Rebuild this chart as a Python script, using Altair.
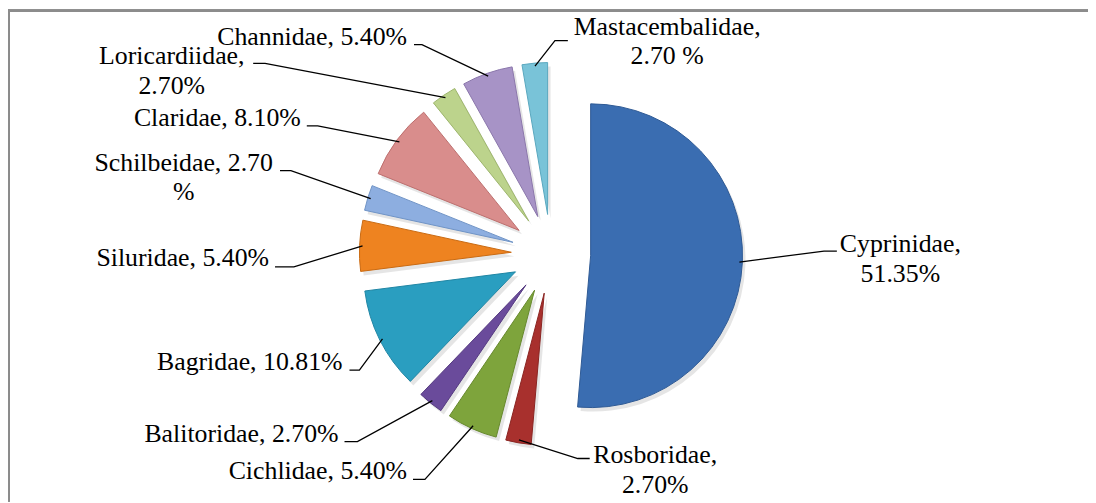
import math
import altair as alt
import pandas as pd

# ---- data ----
families = ["Cyprinidae", "Rosboridae", "Cichlidae", "Balitoridae", "Bagridae",
            "Siluridae", "Schilbeidae", "Claridae", "Loricardiidae", "Channidae",
            "Mastacembalidae"]
shares = [51.35, 2.70, 5.40, 2.70, 10.81, 5.40, 2.70, 8.10, 2.70, 5.40, 2.70]
label_texts = ["Cyprinidae,\n51.35%", "Rosboridae,\n2.70%", "Cichlidae, 5.40%",
               "Balitoridae, 2.70%", "Bagridae, 10.81%", "Siluridae, 5.40%",
               "Schilbeidae, 2.70\n%", "Claridae, 8.10%", "Loricardiidae,\n2.70%",
               "Channidae, 5.40%", "Mastacembalidae,\n2.70 %"]

# ---- styles / layout ----
colors = ["#3A6DB1", "#A8302D", "#7EA43C", "#6A4B9B", "#2A9EC0", "#EE8320",
          "#8DAEE0", "#D98D8C", "#BCD38C", "#A793C6", "#79C3D8"]
strokes = ["#2E5A94", "#8A2421", "#66882C", "#553A80", "#1F85A3", "#C96A12",
           "#6F93C6", "#BC6F6E", "#9DB56C", "#8A76AA", "#5AA7BE"]
FONT = "'Liberation Serif', 'Times New Roman', 'DejaVu Serif', serif"
CX, CY = 547, 246          # pie centre (px)
EXPLODE = 40               # explosion distance (px)
R = 153                    # radius (px)
W, H = 1088, 495

label_x = [899, 652, 402, 333, 337, 263, 177, 295, 165, 402, 664]
label_y = [244, 457, 473, 435, 363, 258, 162, 117, 55, 35, 25]
label_align = ["center", "center", "right", "right", "right", "right",
               "center", "right", "center", "right", "center"]
knee_x = [822, 574, 420, 352, 354, 288, 285, 312, 259, 417, 551]
knee_y = [243, 452, 473, 435, 363, 259, 162, 117, 54, 35, 31]
end_x = [835, 586, 408, 339, 344, 269, 274, 301, 247, 409, 564]
end_y = [243, 452, 473, 435, 363, 259, 162, 117, 54, 35, 31]

slices = pd.DataFrame({"family": families, "share": shares,
                       "idx": list(range(len(families)))})

arc_base = (
    alt.Chart(slices)
    .transform_window(cum="sum(share)", sort=[alt.SortField("idx")], frame=[None, 0])
    .transform_joinaggregate(total="sum(share)")
    .transform_calculate(
        f0="(datum.cum - datum.share) / datum.total",
        f1="datum.cum / datum.total",
        mid="(datum.cum - datum.share / 2) / datum.total * 2 * PI",
    )
    .transform_calculate(
        px=f"{CX} + {EXPLODE} * sin(datum.mid)",
        py=f"{CY} - {EXPLODE} * cos(datum.mid)",
        sx=f"{CX} + {EXPLODE} * sin(datum.mid) + 3",
        sy=f"{CY} - {EXPLODE} * cos(datum.mid) + 4",
    )
)

theta_scale = alt.Scale(domain=[0, 1], range=[0, 2 * math.pi])

shadow = arc_base.mark_arc(radius=R, color="#000000", opacity=0.10).encode(
    theta=alt.Theta("f0:Q", scale=theta_scale),
    theta2="f1:Q",
    x=alt.X("sx:Q", scale=None),
    y=alt.Y("sy:Q", scale=None),
)

arcs = arc_base.mark_arc(radius=R, strokeWidth=1).encode(
    theta=alt.Theta("f0:Q", scale=theta_scale),
    theta2="f1:Q",
    x=alt.X("px:Q", scale=None),
    y=alt.Y("py:Q", scale=None),
    fill=alt.Fill("family:N", scale=alt.Scale(domain=families, range=colors), legend=None),
    stroke=alt.Stroke("family:N", scale=alt.Scale(domain=families, range=strokes), legend=None),
)

# leader lines: start on slice edge (from geometry), knee and end from layout
total = sum(shares)
rows = []
cum = 0.0
for i, (fam, v) in enumerate(zip(families, shares)):
    mid = (cum + v / 2) / total * 2 * math.pi
    cum += v
    rr = EXPLODE + R - 3
    sx = CX + rr * math.sin(mid)
    sy = CY - rr * math.cos(mid)
    rows.append({"family": fam, "seq": 0, "x": sx, "y": sy})
    rows.append({"family": fam, "seq": 1, "x": knee_x[i], "y": knee_y[i]})
    rows.append({"family": fam, "seq": 2, "x": end_x[i], "y": end_y[i]})
leaders = pd.DataFrame(rows)

leader_lines = alt.Chart(leaders).mark_line(color="#000000", strokeWidth=1.3).encode(
    x=alt.X("x:Q", scale=None),
    y=alt.Y("y:Q", scale=None),
    detail="family:N",
    order="seq:Q",
)

labels = pd.DataFrame({"label": label_texts, "lx": label_x, "ly": label_y,
                       "align": label_align})

def text_layer(al):
    return alt.Chart(labels).transform_filter(f"datum.align == '{al}'").mark_text(
        font=FONT, fontSize=26, lineBreak="\n", lineHeight=30,
        baseline="alphabetic", align=al, color="#000000",
    ).encode(
        x=alt.X("lx:Q", scale=None),
        y=alt.Y("ly:Q", scale=None),
        text="label:N",
    )

border_left = alt.Chart(slices).mark_rule(color="#8C8C8C", strokeWidth=2).encode(
    x=alt.value(1), y=alt.value(0), y2=alt.value(H))
border_top = alt.Chart(slices).mark_rule(color="#8C8C8C", strokeWidth=2).encode(
    x=alt.value(0), x2=alt.value(W), y=alt.value(1))

chart = alt.layer(
    border_left, border_top, shadow, arcs, leader_lines,
    text_layer("right"), text_layer("center"),
).properties(
    width=W, height=H, autosize=alt.AutoSizeParams(type="none"), padding=0,
    background="#FFFFFF",
).configure_view(stroke=None)

chart.save("out.html", embed_options={"renderer": "svg", "actions": False})
